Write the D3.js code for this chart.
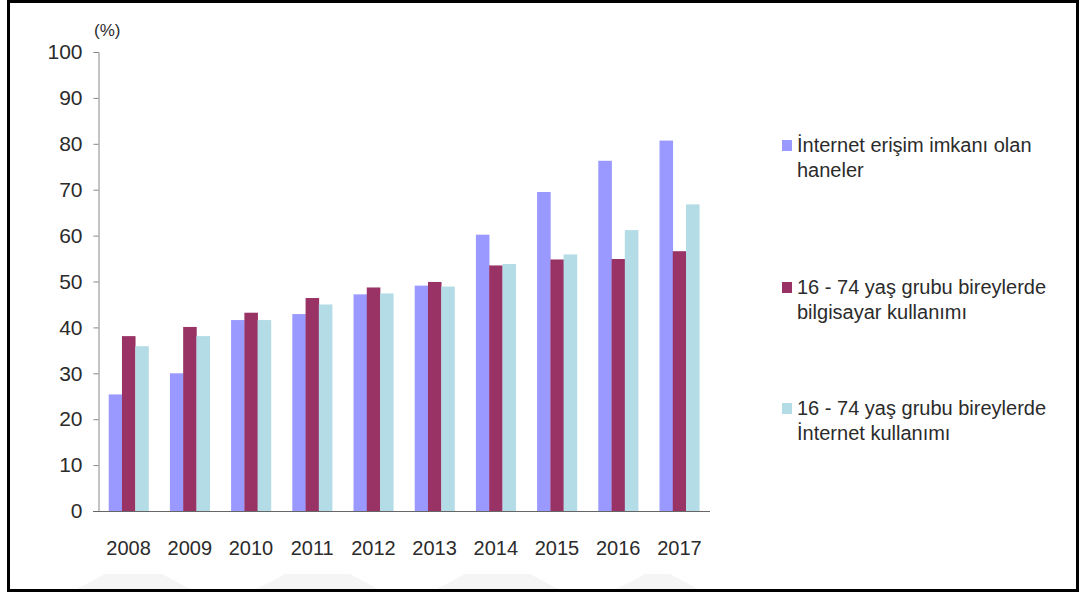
<!DOCTYPE html>
<html lang="tr">
  <head>
    <meta charset="UTF-8" />
    <title>İnternet ve bilgisayar kullanımı</title>
    <script src="https://d3js.org/d3.v7.min.js"></script>
    <style>
      body { margin: 0; background: #fff; }
      text { font-family: "Liberation Sans", Arial, sans-serif; fill: #2b2b2b; }
    </style>
  </head>
  <body>
    <svg id="chart" width="1082" height="599"></svg>
    <script>
      const years = ["2008", "2009", "2010", "2011", "2012", "2013", "2014", "2015", "2016", "2017"];
      const haneErisim = [25.4, 30.0, 41.6, 42.9, 47.2, 49.1, 60.2, 69.5, 76.3, 80.7];
      const bilgisayar = [38.1, 40.1, 43.2, 46.4, 48.7, 49.9, 53.5, 54.8, 54.9, 56.6];
      const internet = [35.9, 38.1, 41.6, 45.0, 47.4, 48.9, 53.8, 55.9, 61.2, 66.8];
      const seriesNames = [
        ["İnternet erişim imkanı olan", "haneler"],
        ["16 - 74 yaş grubu bireylerde", "bilgisayar kullanımı"],
        ["16 - 74 yaş grubu bireylerde", "İnternet kullanımı"]
      ];
      const colors = ["#9999ff", "#993366", "#b4dce6"];
      const yTicks = [0, 10, 20, 30, 40, 50, 60, 70, 80, 90, 100];

      const svg = d3.select("#chart");

      // faint watermark shapes near the bottom
      const wm = svg.append("g").attr("fill", "#f5f5f5");
      [[75, 192], [255, 380], [435, 560], [615, 700]].forEach(([a, b]) => {
        wm.append("path").attr("d", `M${a},590 L${a + 30},574 L${b - 30},574 L${b},590 Z`);
      });

      // frame
      svg.append("rect")
        .attr("x", 8.5).attr("y", 1.5)
        .attr("width", 1069).attr("height", 589)
        .attr("fill", "none").attr("stroke", "#000").attr("stroke-width", 3);

      const series = [haneErisim, bilgisayar, internet];
      const x = d3.scaleBand().domain(years).range([98, 710]).paddingInner(0.35).paddingOuter(0.175);
      const xs = d3.scaleBand().domain([0, 1, 2]).range([0, x.bandwidth()]);
      const y = d3.scaleLinear().domain([0, 100]).range([511, 52]);

      const groups = svg.append("g").selectAll("g")
        .data(years)
        .join("g")
        .attr("transform", d => `translate(${x(d)},0)`);

      groups.selectAll("rect")
        .data((d, i) => series.map((s, k) => ({ k, v: s[i] })))
        .join("rect")
        .attr("x", d => xs(d.k))
        .attr("width", xs.bandwidth() + 0.3)
        .attr("y", d => y(d.v))
        .attr("height", d => y(0) - y(d.v))
        .attr("fill", d => colors[d.k]);

      // y axis
      const yAxis = svg.append("g")
        .attr("transform", "translate(98.5,0)")
        .call(d3.axisLeft(y).tickValues(yTicks).tickSize(5).tickPadding(11));
      yAxis.select(".domain").attr("stroke", "#888");
      yAxis.selectAll(".tick line").attr("stroke", "#888");
      yAxis.selectAll(".tick text").style("font-size", "21px").attr("fill", "#2b2b2b");

      // x axis
      const xAxis = svg.append("g")
        .attr("transform", "translate(0,511.5)")
        .call(d3.axisBottom(x).tickSize(0).tickPadding(29));
      xAxis.select(".domain").attr("d", "M93,0H710").attr("stroke", "#666");
      xAxis.selectAll(".tick text").style("font-size", "20px").attr("fill", "#2b2b2b");

      svg.append("text")
        .attr("x", 94).attr("y", 36)
        .style("font-size", "17px")
        .text("(%)");

      // legend
      const legendTop = [145, 287, 408];
      const legend = svg.append("g").selectAll("g")
        .data(seriesNames)
        .join("g")
        .attr("transform", (d, i) => `translate(782,${legendTop[i]})`);
      legend.append("rect")
        .attr("x", 0).attr("y", -5).attr("width", 10).attr("height", 11)
        .attr("fill", (d, i) => colors[i]);
      legend.selectAll("text")
        .data(d => d)
        .join("text")
        .attr("x", 15)
        .attr("y", (d, j) => j * 25)
        .attr("dy", "0.35em")
        .style("font-size", "20px")
        .text(d => d);
    </script>
  </body>
</html>
